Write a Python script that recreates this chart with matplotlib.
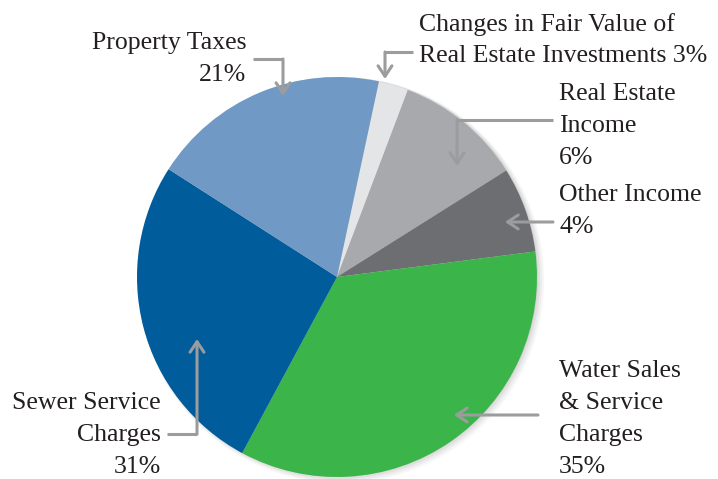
import matplotlib.pyplot as plt
from matplotlib.patches import Circle

# slice shares as drawn (clockwise from the top, starting with the small grey wedge)
categories = ['Changes in Fair Value of\nReal Estate Investments 3%',
              'Real Estate\nIncome\n6%',
              'Other Income\n4%',
              'Water Sales\n& Service\nCharges\n35%',
              'Sewer Service\nCharges\n31%',
              'Property Taxes\n21%']
shares = [2.4, 10.3, 6.9, 34.9, 26.2, 19.3]
colors = ['#e4e5e6', '#a7a9ac', '#6d6e71', '#3bb54a', '#005c9b', '#7099c5']

W, H = 718, 479
fig = plt.figure(figsize=(W / 100, H / 100), dpi=100)
ax = fig.add_axes([0, 0, 1, 1])

cx, cy, r = 337, H - 277, 200

# soft drop shadow
for i, a in enumerate([0.05, 0.06, 0.08, 0.10]):
    ax.add_patch(Circle((cx + 4 - i, cy - 3 + i), r + 3 - i, color='#555555', alpha=a, lw=0, zorder=0))

ax.pie(shares, colors=colors, startangle=77.9, counterclock=False,
       center=(cx, cy), radius=r, frame=True,
       wedgeprops=dict(linewidth=0))
ax.set_xlim(0, W)
ax.set_ylim(0, H)
ax.set_aspect('equal')
ax.axis('off')

txt = dict(family=['Liberation Serif', 'DejaVu Serif'], fontsize=18.5, color='#231f20', linespacing=1.58)
ac = '#9b9c9e'
aprops = dict(arrowstyle='->,head_length=0.75,head_width=0.5', lw=2.2, color=ac,
              shrinkA=0, shrinkB=0)


def Y(y):
    return H - y


def elbow(points):
    # points in pixel coordinates from the top; last segment gets the arrow head
    xs = [p[0] for p in points[:-1]]
    ys = [Y(p[1]) for p in points[:-1]]
    ax.plot(xs, ys, color=ac, lw=2.2, solid_capstyle='butt', solid_joinstyle='miter')
    (x0, y0), (x1, y1) = points[-2], points[-1]
    ax.annotate('', xy=(x1, Y(y1)), xytext=(x0, Y(y0)), arrowprops=aprops)


# labels
ax.text(246, Y(59), 'Property Taxes\n21%', ha='right', va='center', multialignment='right', **txt)
ax.text(419, Y(40), categories[0], ha='left', va='center', **txt)
ax.text(559, Y(126), categories[1], ha='left', va='center', **txt)
ax.text(559, Y(211), categories[2], ha='left', va='center', **txt)
ax.text(559, Y(419), categories[3], ha='left', va='center', **txt)
ax.text(161, Y(435), categories[4], ha='right', va='center', multialignment='right', **txt)

# leader arrows
elbow([(253, 59), (283, 59), (283, 96)])
elbow([(413, 52), (385, 52), (385, 79)])
elbow([(553, 120), (457, 120), (457, 166)])
elbow([(553, 222), (505, 222)])
elbow([(538, 415), (454, 415)])
elbow([(167, 434), (197, 434), (197, 339)])

fig.savefig('out.png', dpi=100)
